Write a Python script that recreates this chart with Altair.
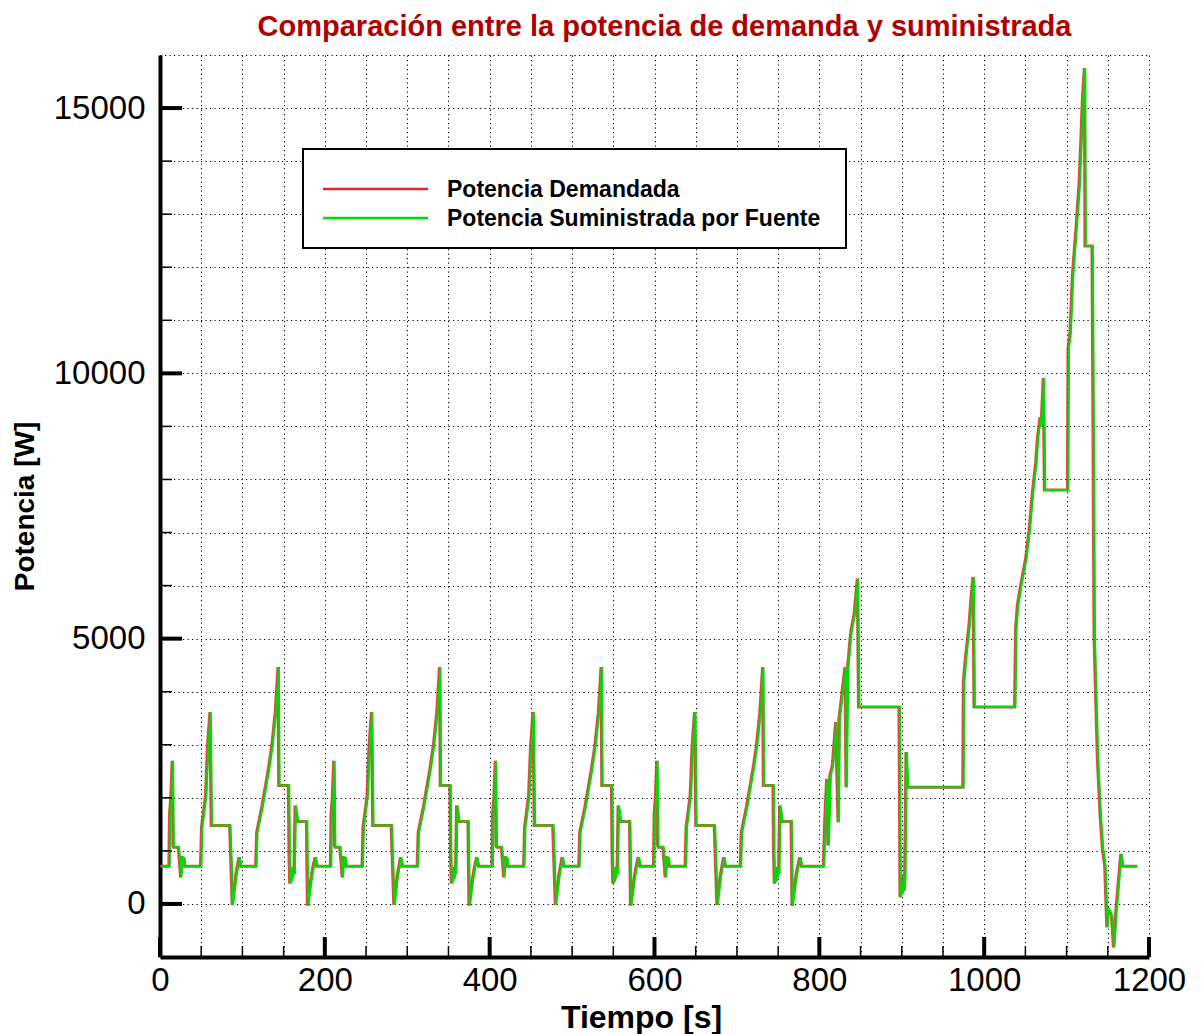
import altair as alt
import pandas as pd

# ---------------- data ----------------
# Four urban (ECE) cycles
ece1_t = [0, 10.7, 11.5, 13.0, 14.7, 15.7, 16.5, 22.0, 23.5, 24.9, 26.5, 27.5, 28.5, 29.5, 49.1, 50.3, 53.2, 55.2, 57.5, 60.5, 62.0, 84.4, 87.6, 91.7, 95.7, 97.8, 116.0, 117.2, 123.5, 127.6, 131.6, 135.6, 139.7, 143.1, 144.0, 155.7, 156.5, 157.3, 158.1, 158.9, 159.7, 160.5, 161.3, 162.5, 163.8, 166.6, 177.6, 178.8, 182.8, 185.5, 188.1, 190.2]
ece1_p = [711, 711, 1700, 2000, 2700, 1100, 1070, 1070, 800, 500, 900, 760, 880, 711, 711, 1450, 1800, 2050, 2950, 3616, 1478, 1478, -20, 530, 880, 711, 711, 1350, 1830, 2200, 2560, 2990, 3600, 4465, 2233, 2233, 900, 380, 600, 420, 650, 480, 700, 560, 1855, 1553, 1553, -35, 450, 700, 880, 711]

ece2_t = [196, 206.7, 207.5, 209.0, 210.7, 211.7, 212.5, 218.0, 219.5, 220.9, 222.5, 223.5, 224.5, 225.5, 245.1, 246.3, 249.2, 251.2, 253.5, 256.5, 258.0, 280.4, 283.6, 287.7, 291.7, 293.8, 312.0, 313.2, 319.5, 323.6, 327.6, 331.6, 335.7, 339.1, 340.0, 351.7, 352.5, 353.3, 354.1, 354.9, 355.7, 356.5, 357.3, 358.5, 359.8, 362.6, 373.6, 374.8, 378.8, 381.5, 384.1, 386.2]
ece2_p = [711, 711, 1700, 2000, 2700, 1100, 1070, 1070, 800, 500, 900, 760, 880, 711, 711, 1450, 1800, 2050, 2950, 3616, 1478, 1478, -20, 530, 880, 711, 711, 1350, 1830, 2200, 2560, 2990, 3600, 4465, 2233, 2233, 900, 380, 600, 420, 650, 480, 700, 560, 1855, 1553, 1553, -35, 450, 700, 880, 711]

ece3_t = [392, 402.7, 403.5, 405.0, 406.7, 407.7, 408.5, 414.0, 415.5, 416.9, 418.5, 419.5, 420.5, 421.5, 441.1, 442.3, 445.2, 447.2, 449.5, 452.5, 454.0, 476.4, 479.6, 483.7, 487.7, 489.8, 508.0, 509.2, 515.5, 519.6, 523.6, 527.6, 531.7, 535.1, 536.0, 547.7, 548.5, 549.3, 550.1, 550.9, 551.7, 552.5, 553.3, 554.5, 555.8, 558.6, 569.6, 570.8, 574.8, 577.5, 580.1, 582.2]
ece3_p = [711, 711, 1700, 2000, 2700, 1100, 1070, 1070, 800, 500, 900, 760, 880, 711, 711, 1450, 1800, 2050, 2950, 3616, 1478, 1478, -20, 530, 880, 711, 711, 1350, 1830, 2200, 2560, 2990, 3600, 4465, 2233, 2233, 900, 380, 600, 420, 650, 480, 700, 560, 1855, 1553, 1553, -35, 450, 700, 880, 711]

ece4_t = [588, 598.7, 599.5, 601.0, 602.7, 603.7, 604.5, 610.0, 611.5, 612.9, 614.5, 615.5, 616.5, 617.5, 637.1, 638.3, 641.2, 643.2, 645.5, 648.5, 650.0, 672.4, 675.6, 679.7, 683.7, 685.8, 704.0, 705.2, 711.5, 715.6, 719.6, 723.6, 727.7, 731.1, 732.0, 743.7, 744.5, 745.3, 746.1, 746.9, 747.7, 748.5, 749.3, 750.5, 751.8, 754.6, 765.6, 766.8, 770.8, 773.5, 776.1, 778.2]
ece4_p = [711, 711, 1700, 2000, 2700, 1100, 1070, 1070, 800, 500, 900, 760, 880, 711, 711, 1450, 1800, 2050, 2950, 3616, 1478, 1478, -20, 530, 880, 711, 711, 1350, 1830, 2200, 2560, 2990, 3600, 4465, 2233, 2233, 900, 380, 600, 420, 650, 480, 700, 560, 1855, 1553, 1553, -35, 450, 700, 880, 711]

# Extra-urban part
eudc_t = [804.8, 806.4, 808.8, 810.4, 812.8, 815.7, 819.7, 822.6, 823.8, 829.0, 831.1, 832.3, 833.9, 838.0, 842.0, 846.0, 847.5, 896.6, 897.8, 899.0, 899.8, 900.6, 901.6, 902.5, 903.4, 905.1, 906.7, 974.0, 974.7, 977.5, 981.5, 983.6, 986.4, 987.6, 1036.8, 1038.1, 1040.2, 1044.2, 1050.3, 1054.4, 1058.5, 1062.5, 1064.6, 1067.8, 1069.0, 1071.6, 1073.0, 1101.0, 1101.7, 1104.1, 1107.0, 1111.0, 1115.0, 1117.1, 1119.1, 1121.5, 1122.3, 1130.8, 1133.3, 1135.3, 1137.3, 1140.6, 1143.4, 1146.2, 1148.7, 1150.0, 1151.5, 1154.4, 1156.8, 1159.6, 1163.7, 1165.7, 1167.7, 1185.1]
eudc_p = [711, 1541, 2358, 1101, 2421, 2610, 3428, 1541, 3491, 4182, 4465, 2201, 4403, 5126, 5450, 6132, 3711, 3711, 126, 400, 180, 283, 520, 250, 472, 2862, 2201, 2201, 4182, 4686, 5252, 5692, 6163, 3711, 3711, 5189, 5629, 6006, 6509, 7044, 7767, 8327, 8799, 9176, 9000, 9910, 7800, 7800, 10472, 10786, 11855, 12673, 13553, 14340, 15157, 15755, 12400, 12400, 5000, 3868, 2736, 1667, 1038, 723, -440, -100, -126, -220, -818, -157, 597, 943, 711, 711]

series_names = ["Potencia Demandada", "Potencia Suministrada por Fuente"]
series_colors = ["#d42a2a", "#00dc00"]

x_ticks_major = [0, 200, 400, 600, 800, 1000, 1200]
x_ticks_minor = [0, 50, 100, 150, 200, 250, 300, 350, 400, 450, 500, 550, 600, 650, 700, 750, 800, 850, 900, 950, 1000, 1050, 1100, 1150, 1200]
y_ticks_major = [0, 5000, 10000, 15000]
y_ticks_minor = [0, 1000, 2000, 3000, 4000, 5000, 6000, 7000, 8000, 9000, 10000, 11000, 12000, 13000, 14000, 15000]
y_grid = [-1000, 0, 1000, 2000, 3000, 4000, 5000, 6000, 7000, 8000, 9000, 10000, 11000, 12000, 13000, 14000, 15000, 16000]

title_text = "Comparación entre la potencia de demanda y suministrada"
x_title = "Tiempo [s]"
y_title = "Potencia [W]"

# ---------------- build ----------------
t_all = ece1_t + ece2_t + ece3_t + ece4_t + eudc_t
p_all = ece1_p + ece2_p + ece3_p + ece4_p + eudc_p
df = pd.DataFrame({"t": t_all, "p": p_all})

W, H = 989, 902
FONT = "Liberation Sans"

xscale = alt.Scale(domain=[0, 1200], nice=False, zero=False)
yscale = alt.Scale(domain=[-1000, 16000], nice=False, zero=False)

x_axis = alt.Axis(
    values=x_ticks_minor, format="d",
    labelExpr="datum.value % 200 == 0 ? datum.label : ''",
    grid=True, ticks=False, tickSize=0, labelPadding=7, labelFlush=False,
    labelFontSize=33, labelFont=FONT, labelColor="black", labelOverlap=False,
    domainColor="black", domainWidth=4,
    title=x_title, titleFontSize=32, titleFont=FONT, titleFontWeight="bold",
    titleColor="black", titleX=481, titleY=60, titleAlign="center", titleBaseline="middle",
)
y_axis = alt.Axis(
    values=y_grid, format="d",
    labelExpr="(datum.value >= 0 && datum.value <= 15000 && datum.value % 5000 == 0) ? datum.label : ''",
    grid=True, ticks=False, tickSize=0, labelPadding=15, labelFlush=False,
    labelFontSize=33, labelFont=FONT, labelColor="black", labelOverlap=False,
    domainColor="black", domainWidth=4,
    title=y_title, titleFontSize=28, titleFont=FONT, titleFontWeight="bold",
    titleColor="black", titleX=-135, titleY=451, titleAlign="center", titleBaseline="middle",
)

red = alt.Chart(df).mark_line(color=series_colors[0], strokeWidth=3, opacity=0.85).encode(
    x=alt.X("t:Q", scale=xscale, axis=x_axis),
    y=alt.Y("p:Q", scale=yscale, axis=y_axis),
    order="t:Q",
)
green = alt.Chart(df).mark_line(color=series_colors[1], strokeWidth=2, xOffset=1).encode(
    x=alt.X("t:Q", scale=xscale),
    y=alt.Y("p:Q", scale=yscale),
    order="t:Q",
)

xmaj = alt.Chart(pd.DataFrame({"v": x_ticks_major})).mark_rule(color="black", strokeWidth=4).encode(
    x=alt.X("v:Q", scale=xscale), y=alt.value(H), y2=alt.value(H - 20))
xmin = alt.Chart(pd.DataFrame({"v": x_ticks_minor})).mark_rule(color="black", strokeWidth=1.5).encode(
    x=alt.X("v:Q", scale=xscale), y=alt.value(H), y2=alt.value(H - 11))
ymaj = alt.Chart(pd.DataFrame({"v": y_ticks_major})).mark_rule(color="black", strokeWidth=4).encode(
    y=alt.Y("v:Q", scale=yscale), x=alt.value(0), x2=alt.value(22))
ymin = alt.Chart(pd.DataFrame({"v": y_ticks_minor})).mark_rule(color="black", strokeWidth=1.5).encode(
    y=alt.Y("v:Q", scale=yscale), x=alt.value(0), x2=alt.value(12))

one = pd.DataFrame({"k": [0]})
leg_box = alt.Chart(one).mark_rect(fill="white", stroke="black", strokeWidth=2).encode(
    x=alt.value(143), x2=alt.value(686), y=alt.value(94), y2=alt.value(193))
leg_l1 = alt.Chart(one).mark_rule(color=series_colors[0], strokeWidth=2.5).encode(
    x=alt.value(163), x2=alt.value(268), y=alt.value(134))
leg_l2 = alt.Chart(one).mark_rule(color=series_colors[1], strokeWidth=2.5).encode(
    x=alt.value(163), x2=alt.value(268), y=alt.value(163))
leg_t1 = alt.Chart(one).mark_text(align="left", baseline="middle", font=FONT, fontSize=23,
                                  fontWeight="bold", color="black").encode(
    x=alt.value(287), y=alt.value(135), text=alt.value(series_names[0]))
leg_t2 = alt.Chart(one).mark_text(align="left", baseline="middle", font=FONT, fontSize=23,
                                  fontWeight="bold", color="black").encode(
    x=alt.value(287), y=alt.value(164), text=alt.value(series_names[1]))

chart = alt.layer(
    red, green, xmin, xmaj, ymin, ymaj, leg_box, leg_l1, leg_l2, leg_t1, leg_t2
).properties(
    width=W, height=H,
    autosize=alt.AutoSizeParams(type="none"),
    padding={"left": 152, "top": 47, "right": 44, "bottom": 77},
    title=alt.TitleParams(text=title_text, color="#b00000", fontSize=29, fontWeight="bold",
                          font=FONT, anchor="middle", dx=10, dy=3, offset=0),
).configure_view(strokeWidth=0).configure_axis(
    gridColor="black", gridDash=[1.2, 3.3], gridWidth=1, gridOpacity=1,
)

chart.save("out.html", embed_options={"renderer": "svg", "actions": False})
